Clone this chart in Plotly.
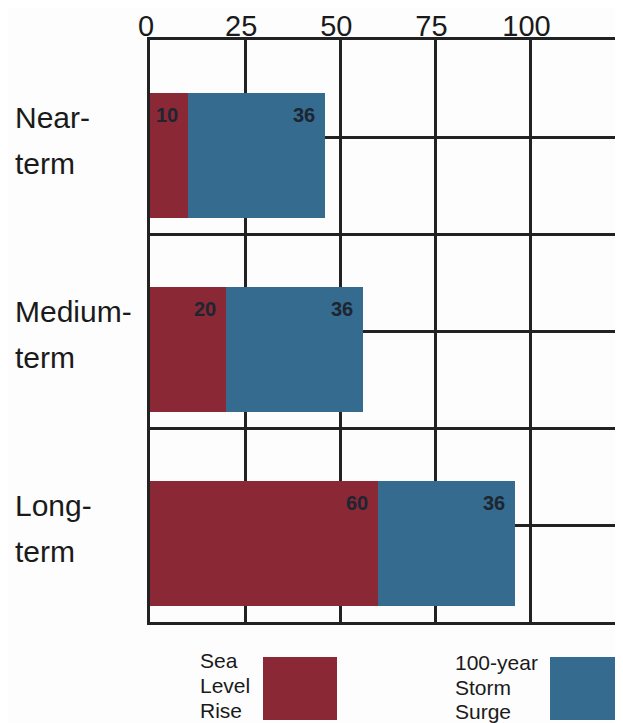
import plotly.graph_objects as go

# data
categories = ["Near-term", "Medium-term", "Long-term"]
cat_lines = [["Near-", "term"], ["Medium-", "term"], ["Long-", "term"]]
sea_level = [10, 20, 60]
storm_surge = [36, 36, 36]
x_ticks = [0, 25, 50, 75, 100]
legend_lines = [["Sea", "Level", "Rise"], ["100-year", "Storm", "Surge"]]

RED = "#8b2835"
BLUE = "#356b8f"
LINE = "#222222"
TXT = "#1a1a1a"
FONT = "Liberation Sans, Arial, sans-serif"

OFF = 8                      # page body margin
W, H = 623 - OFF, 723 - OFF
L, T = 150 - OFF, 40 - OFF   # plot area left/top in figure px
B = H - (622 - OFF)
plot_w = W - L
plot_h = H - T - B
PX_PER_UNIT = 3.805

ypos = list(range(len(categories)))
bar_off, bar_w = -0.228, 0.648


def px2x(px):
    # page pixel -> paper x
    return (px - OFF - L) / plot_w


def px2y(py):
    # page pixel -> paper y
    return 1 - (py - OFF - T) / plot_h


fig = go.Figure()
fig.add_trace(go.Bar(x=sea_level, y=ypos, orientation="h", offset=bar_off, width=bar_w,
                     marker=dict(color=RED, line=dict(width=0)), name="Sea Level Rise",
                     hoverinfo="x"))
fig.add_trace(go.Bar(x=storm_surge, y=ypos, orientation="h", offset=bar_off, width=bar_w,
                     marker=dict(color=BLUE, line=dict(width=0)), name="100-year Storm Surge",
                     hoverinfo="x"))

annots = []
# value labels, top right inside each segment
for i in ypos:
    ends = [sea_level[i], sea_level[i] + storm_surge[i]]
    vals = [sea_level[i], storm_surge[i]]
    for e, v in zip(ends, vals):
        annots.append(dict(x=e, y=i + bar_off, xref="x", yref="y", text="<b>%d</b>" % v,
                           showarrow=False, xanchor="right", yanchor="top",
                           xshift=-8, yshift=-9,
                           font=dict(family=FONT, size=20, color="#1c2530")))
# category labels, one annotation per line
for i, lines in zip(ypos, cat_lines):
    for k, s in enumerate(lines):
        annots.append(dict(x=0, y=i, xref="paper", yref="y", text=s, showarrow=False,
                           xanchor="left", yanchor="middle", xshift=-L + 5,
                           yshift=19.5 - 46 * k,
                           font=dict(family=FONT, size=30, color=TXT)))
# legend text
for lines, left, top in zip(legend_lines, [198, 453], [660, 662]):
    for k, s in enumerate(lines):
        annots.append(dict(x=px2x(left), y=px2y(top + 25 * k), xref="paper", yref="paper",
                           text=s, showarrow=False, xanchor="left", yanchor="middle",
                           font=dict(family=FONT, size=21, color=TXT)))

shapes = [
    dict(type="rect", xref="paper", yref="paper", x0=px2x(263), x1=px2x(337),
         y0=px2y(657), y1=px2y(720), fillcolor=RED, line=dict(width=0)),
    dict(type="rect", xref="paper", yref="paper", x0=px2x(550), x1=px2x(640),
         y0=px2y(657), y1=px2y(720), fillcolor=BLUE, line=dict(width=0)),
]

fig.update_layout(
    width=W, height=H,
    margin=dict(l=L, r=0, t=T, b=B),
    barmode="stack",
    bargap=0,
    showlegend=False,
    paper_bgcolor="#fdfdfd",
    plot_bgcolor="#fdfdfd",
    font=dict(family=FONT, color=TXT),
    annotations=annots,
    shapes=shapes,
)
fig.update_xaxes(side="top", range=[0, plot_w / PX_PER_UNIT], tickvals=x_ticks,
                 tickfont=dict(size=29, color=TXT), ticks="", ticklen=0,
                 ticklabelshift=-4, ticklabelstandoff=-10, automargin=False,
                 showgrid=True, gridcolor=LINE, gridwidth=2.5, zeroline=False,
                 showline=True, mirror=True, linecolor=LINE, linewidth=2.5)
fig.update_yaxes(range=[len(categories) - 0.5, -0.5],
                 tickvals=[v / 2 - 0.5 for v in range(2 * len(categories) + 1)],
                 showticklabels=False, ticks="", automargin=False,
                 showgrid=True, gridcolor=LINE, gridwidth=2.5, zeroline=False,
                 showline=True, linecolor=LINE, linewidth=2.5)

fig.write_html("out.html")
